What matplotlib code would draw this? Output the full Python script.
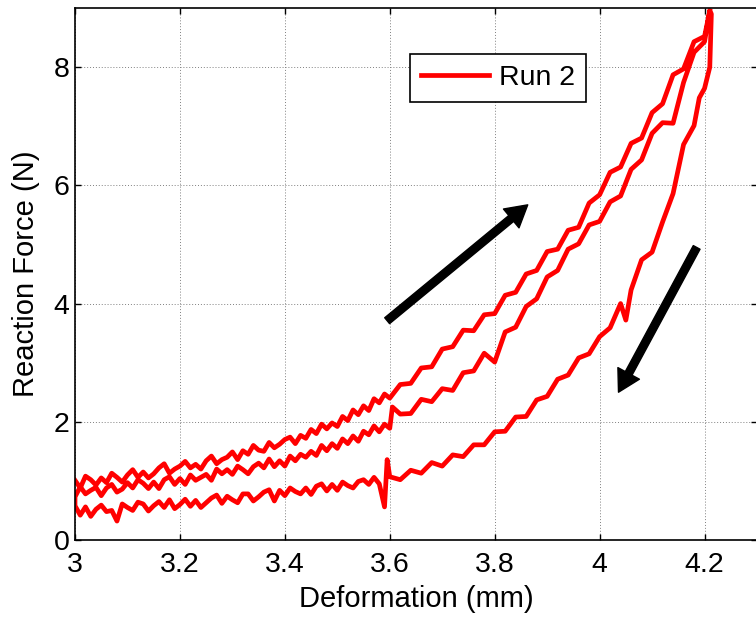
import matplotlib
matplotlib.use('Agg')
import matplotlib.pyplot as plt

plt.rcParams['font.family'] = ['Liberation Sans', 'DejaVu Sans']

# upper loading branch
up_x = [3.00, 3.01, 3.02, 3.03, 3.04, 3.05, 3.06, 3.07, 3.08, 3.09,
        3.10, 3.11, 3.12, 3.13, 3.14, 3.15, 3.16, 3.17, 3.18, 3.19,
        3.20, 3.21, 3.22, 3.23, 3.24, 3.25, 3.26, 3.27, 3.28, 3.29,
        3.30, 3.31, 3.32, 3.33, 3.34, 3.35, 3.36, 3.37, 3.38, 3.39,
        3.40, 3.41, 3.42, 3.43, 3.44, 3.45, 3.46, 3.47, 3.48, 3.49,
        3.50, 3.51, 3.52, 3.53, 3.54, 3.55, 3.56, 3.57, 3.58, 3.59,
        3.60, 3.62, 3.64, 3.66, 3.68, 3.70, 3.72, 3.74, 3.76, 3.78,
        3.80, 3.82, 3.84, 3.86, 3.88, 3.90, 3.92, 3.94, 3.96, 3.98,
        4.00, 4.02, 4.04, 4.06, 4.08, 4.10, 4.12, 4.14, 4.16, 4.18,
        4.20, 4.21]
up_y = [1.01, 0.88, 1.08, 1.02, 0.93, 1.05, 0.97, 1.13, 1.06, 0.98,
        1.10, 1.19, 1.06, 1.15, 1.05, 1.12, 1.22, 1.29, 1.13, 1.20,
        1.25, 1.33, 1.22, 1.28, 1.20, 1.34, 1.42, 1.29, 1.36, 1.40,
        1.49, 1.36, 1.51, 1.45, 1.60, 1.52, 1.50, 1.65, 1.56, 1.62,
        1.70, 1.74, 1.63, 1.77, 1.72, 1.87, 1.80, 1.96, 1.88, 1.98,
        1.92, 2.09, 2.02, 2.20, 2.12, 2.27, 2.19, 2.39, 2.32, 2.47,
        2.40, 2.63, 2.65, 2.91, 2.93, 3.23, 3.27, 3.55, 3.54, 3.81,
        3.83, 4.14, 4.19, 4.50, 4.56, 4.88, 4.92, 5.24, 5.29, 5.70,
        5.84, 6.22, 6.31, 6.71, 6.80, 7.23, 7.38, 7.87, 7.97, 8.43,
        8.52, 8.95]

# unloading branch (listed from left to right)
low_x = [3.00, 3.01, 3.02, 3.03, 3.04, 3.05, 3.06, 3.07, 3.08, 3.09,
         3.10, 3.11, 3.12, 3.13, 3.14, 3.15, 3.16, 3.17, 3.18, 3.19,
         3.20, 3.21, 3.22, 3.23, 3.24, 3.25, 3.26, 3.27, 3.28, 3.29,
         3.30, 3.31, 3.32, 3.33, 3.34, 3.35, 3.36, 3.37, 3.38, 3.39,
         3.40, 3.41, 3.42, 3.43, 3.44, 3.45, 3.46, 3.47, 3.48, 3.49,
         3.50, 3.51, 3.52, 3.53, 3.54, 3.55, 3.56, 3.57, 3.58, 3.59,
         3.595, 3.60, 3.62, 3.64, 3.66, 3.68, 3.70, 3.72, 3.74, 3.76,
         3.78, 3.80, 3.82, 3.84, 3.86, 3.88, 3.90, 3.92, 3.94, 3.96,
         3.98, 4.00, 4.02, 4.04, 4.05, 4.06, 4.08, 4.10, 4.12, 4.14,
         4.16, 4.18, 4.19, 4.20, 4.21, 4.213]
low_y = [0.58, 0.42, 0.56, 0.40, 0.52, 0.59, 0.48, 0.50, 0.32, 0.61,
         0.55, 0.50, 0.64, 0.61, 0.49, 0.58, 0.65, 0.55, 0.68, 0.53,
         0.60, 0.69, 0.57, 0.67, 0.55, 0.63, 0.71, 0.76, 0.62, 0.74,
         0.68, 0.63, 0.78, 0.78, 0.66, 0.73, 0.81, 0.85, 0.66, 0.84,
         0.75, 0.88, 0.82, 0.78, 0.88, 0.77, 0.91, 0.95, 0.83, 0.94,
         0.84, 0.98, 0.92, 0.88, 0.99, 1.02, 0.94, 1.06, 0.95, 0.56,
         1.36, 1.07, 1.02, 1.18, 1.13, 1.31, 1.25, 1.44, 1.41, 1.61,
         1.61, 1.83, 1.84, 2.08, 2.09, 2.37, 2.43, 2.72, 2.79, 3.08,
         3.15, 3.44, 3.59, 4.00, 3.72, 4.23, 4.74, 4.87, 5.38, 5.86,
         6.69, 7.01, 7.48, 7.64, 8.00, 8.90]

# second loading branch
mid_x = [3.00, 3.01, 3.02, 3.03, 3.04, 3.05, 3.06, 3.07, 3.08, 3.09,
         3.10, 3.11, 3.12, 3.13, 3.14, 3.15, 3.16, 3.17, 3.18, 3.19,
         3.20, 3.21, 3.22, 3.23, 3.24, 3.25, 3.26, 3.27, 3.28, 3.29,
         3.30, 3.31, 3.32, 3.33, 3.34, 3.35, 3.36, 3.37, 3.38, 3.39,
         3.40, 3.41, 3.42, 3.43, 3.44, 3.45, 3.46, 3.47, 3.48, 3.49,
         3.50, 3.51, 3.52, 3.53, 3.54, 3.55, 3.56, 3.57, 3.58, 3.59,
         3.60, 3.605, 3.62, 3.64, 3.66, 3.68, 3.70, 3.72, 3.74, 3.76,
         3.78, 3.80, 3.82, 3.84, 3.86, 3.88, 3.90, 3.92, 3.94, 3.96,
         3.98, 4.00, 4.02, 4.04, 4.06, 4.08, 4.10, 4.12, 4.14, 4.16,
         4.18, 4.20, 4.21]
mid_y = [0.73, 0.90, 0.78, 0.84, 0.89, 0.75, 0.88, 0.94, 0.81, 0.86,
         0.97, 0.88, 1.02, 0.96, 0.87, 0.98, 0.87, 1.02, 1.07, 0.94,
         1.04, 0.94, 1.10, 1.01, 1.06, 1.11, 1.01, 1.20, 1.12, 1.19,
         1.11, 1.25, 1.19, 1.12, 1.24, 1.30, 1.22, 1.37, 1.24, 1.34,
         1.25, 1.42, 1.34, 1.45, 1.40, 1.50, 1.43, 1.60, 1.51, 1.63,
         1.55, 1.71, 1.63, 1.76, 1.67, 1.84, 1.78, 1.93, 1.83, 1.96,
         1.89, 2.25, 2.13, 2.14, 2.38, 2.34, 2.56, 2.53, 2.83, 2.86,
         3.16, 3.01, 3.52, 3.60, 3.95, 4.08, 4.45, 4.56, 4.92, 5.01,
         5.33, 5.39, 5.72, 5.82, 6.27, 6.43, 6.88, 7.06, 7.05, 7.74,
         8.25, 8.43, 8.95]

x_ticks = [3, 3.2, 3.4, 3.6, 3.8, 4, 4.2]
x_labels = ['3', '3.2', '3.4', '3.6', '3.8', '4', '4.2']
y_ticks = [0, 2, 4, 6, 8]

# loading arrow and unloading arrow (tail, head)
arrow_up = [(3.595, 3.71), (3.863, 5.67)]
arrow_down = [(4.185, 4.95), (4.036, 2.50)]

x_all = up_x + low_x[::-1] + mid_x
y_all = up_y + low_y[::-1] + mid_y

fig = plt.figure(figsize=(7.56, 6.2), dpi=100)
ax = fig.add_axes([75 / 756, 80 / 620, 682 / 756, 532 / 620])

ax.plot(x_all, y_all, color='#ff0000', lw=3.4, label='Run 2')

for tail, head in (arrow_up, arrow_down):
    ax.annotate('', xy=head, xytext=tail,
                arrowprops=dict(arrowstyle='simple,head_length=0.7,head_width=0.8,tail_width=0.25',
                                mutation_scale=22, color='black', shrinkA=0, shrinkB=0))

ax.set_xlim(3, 4.3)
ax.set_ylim(0, 9)
ax.set_xticks(x_ticks)
ax.set_xticklabels(x_labels)
ax.set_yticks(y_ticks)
ax.grid(True, color='#808080', linestyle=(0, (1, 2)), linewidth=0.7)
ax.tick_params(direction='in', length=4, width=1, labelsize=20.5, top=True, right=True)
ax.tick_params(axis='x', pad=9)
ax.tick_params(axis='y', pad=4)
for sp in ax.spines.values():
    sp.set_linewidth(1.2)

ax.set_xlabel('Deformation (mm)', fontsize=21, labelpad=5)
ax.set_ylabel('Reaction Force (N)', fontsize=21, labelpad=10)

leg = ax.legend(loc='upper left', bbox_to_anchor=(0.491, 0.9135), fontsize=20.5,
                fancybox=False, framealpha=1, edgecolor='black', handlelength=2.4,
                borderpad=0.38, handletextpad=0.35, borderaxespad=0)
leg.get_frame().set_linewidth(1.2)

fig.savefig('out.png', dpi=100)
